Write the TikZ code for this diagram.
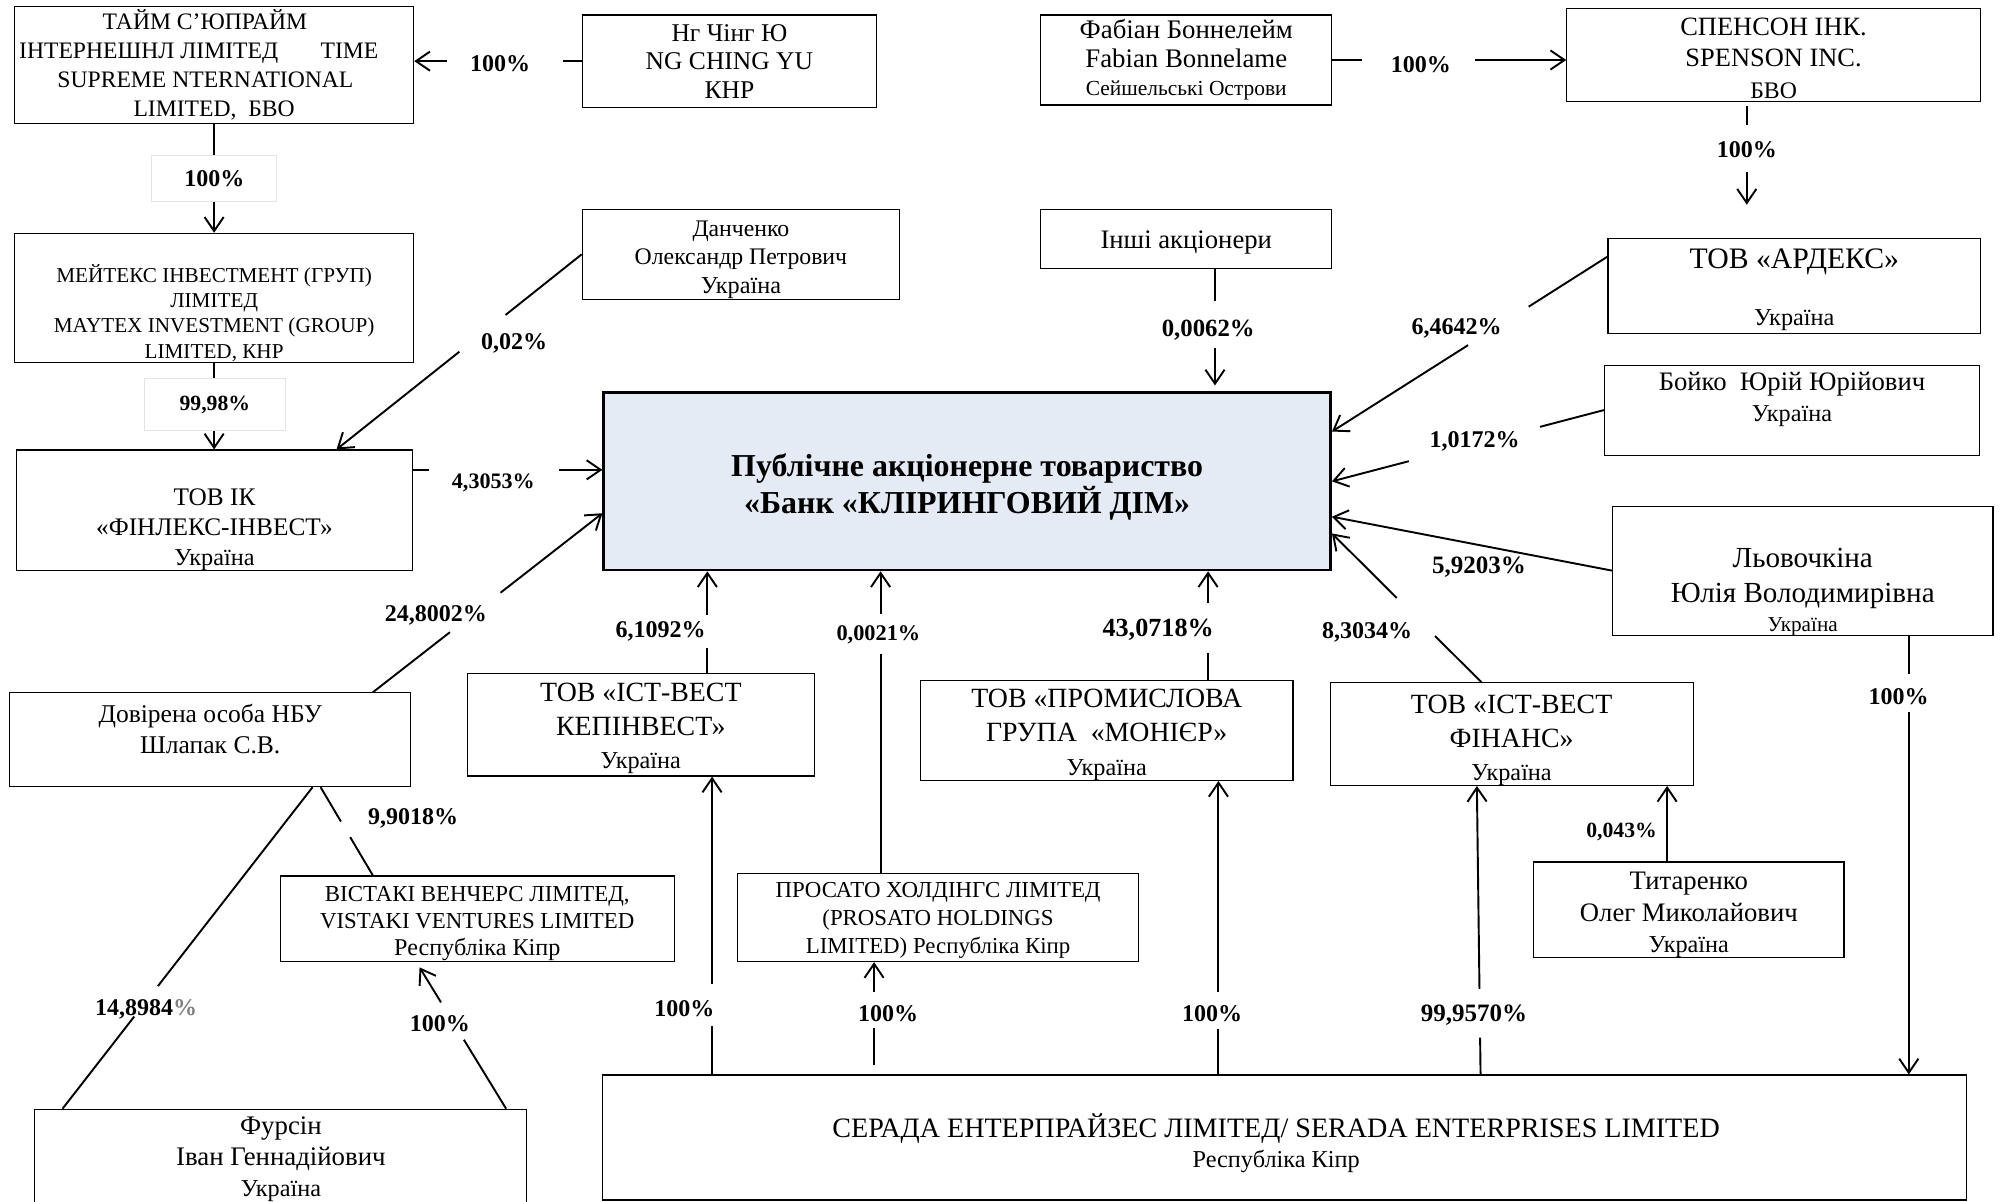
\documentclass[tikz,border=0pt]{standalone}
\usepackage{fontspec}
\setmainfont{Liberation Serif}
\usetikzlibrary{arrows.meta,calc}
\newcommand\fz[2]{\fontsize{#1}{#2}\selectfont}
\newcommand\dn[1]{\rule{0pt}{#1}}
\newcommand\tr[1]{\rule{#1}{0pt}}
\definecolor{bankfill}{RGB}{229,235,245}
\definecolor{lightedge}{RGB}{228,228,228}
\begin{document}
\begin{tikzpicture}[x=1pt,y=-1pt,
  bx/.style 2 args={draw, line width=0.9pt, inner sep=0pt, align=center, minimum width=#1, minimum height=#2},
  txt/.style={inner sep=0pt, align=center},
  conn/.style={line width=1.5pt},
  arr/.style={line width=1.5pt, -{Straight Barb[length=11pt,width=15pt]}},
  gap/.style={sloped, fill=white, inner sep=0pt, minimum height=8pt, minimum width=#1},
  lbl/.style={font=\bfseries\fz{18.8}{20}, inner sep=0pt},
  lblbox/.style={lbl, draw=lightedge, line width=0.8pt, fill=white}]
\fill[white] (0,0) rectangle (1568,941.4);
\useasboundingbox (0,0) rectangle (1568,941.4);

% ---------- boxes ----------
\node[bx={312.6pt}{91.4pt}, font=\fz{18.5}{22.7}] (tsi) at (167.7,50.9)
  {ТАЙМ С’ЮПРАЙМ\tr{14.4pt}\\ІНТЕРНЕШНЛ ЛІМІТЕД\hspace{1.8em}TIME\tr{24pt}\\SUPREME NTERNATIONAL\tr{13.6pt}\\LIMITED,\ \ БВО};
\node[bx={230.5pt}{72.4pt}, font=\fz{20}{22.3}] (ng) at (571.3,47.9)
  {Нг Чінг Ю\\NG CHING YU\\КНР};
\node[bx={227.8pt}{70.5pt}, font=\fz{21}{22.2}] (fab) at (929.1,47)
  {Фабіан Боннелейм\\Fabian Bonnelame\\{\fz{16.8}{20}Сейшельські Острови}};
\node[bx={324pt}{73.1pt}, font=\fz{20.7}{24.4}] (spen) at (1389.1,43.1)
  {\dn{18.7pt}СПЕНСОН ІНК.\\SPENSON INC.\\{\fz{18.6}{20}БВО}};
\node[bx={312.6pt}{101.1pt}] (may) at (167.7,233.3) {};
\node[txt, font=\fz{16.6}{19.8}] (mayt) at (167.7,245)
  {МЕЙТЕКС ІНВЕСТМЕНТ (ГРУП)\\ЛІМІТЕД\\MAYTEX INVESTMENT (GROUP)\\LIMITED, КНР};
\node[bx={248.5pt}{70.5pt}, font=\fz{18.6}{22.2}] (dan) at (580.3,199.2)
  {\dn{20.3pt}Данченко\\Олександр Петрович\\{\fz{19}{20}Україна}};
\node[bx={227.8pt}{46.2pt}, font=\fz{20.9}{22}] (inshi) at (929.1,187) {\dn{19.8pt}Інші акціонери};
\node[bx={291.7pt}{74.3pt}] (ard) at (1405.3,223.9) {};
\node[txt, font=\fz{23.3}{24}] (ardt) at (1405.3,205) {ТОВ «АРДЕКС»};
\node[txt, font=\fz{19}{20}] (ardu) at (1405.3,251) {Україна};
\node[bx={293.8pt}{70.5pt}] (boi) at (1403.5,321.2) {};
\node[txt, font=\fz{20.9}{24}] (boit) at (1403.5,313) {Бойко\ \ Юрій Юрійович\\{\fz{19}{20}Україна}};
\node[bx={569.4pt}{138.9pt}, line width=2pt, fill=bankfill, font=\bfseries\fz{25}{28.5}] (bank) at (757.5,377)
  {\dn{26.5pt}Публічне акціонерне товариство\\«Банк «КЛІРИНГОВИЙ ДІМ»};
\node[bx={310pt}{94.5pt}] (fin) at (168,399.7) {};
\node[txt, font=\fz{19.8}{23.5}] (fint) at (168,415) {ТОВ ІК\\«ФІНЛЕКС-ІНВЕСТ»\\{\fz{19}{20}Україна}};
\node[bx={298pt}{101pt}] (lyo) at (1411.9,446.9) {};
\node[txt, font=\fz{22.8}{27}] (lyot) at (1411.9,464) {Льовочкіна\\Юлія Володимирівна\\[-4pt]{\fz{16.6}{18}Україна}};
\node[bx={314pt}{73.4pt}] (dov) at (164.7,579.4) {};
\node[txt, font=\fz{20}{24}] (dovt) at (164.7,571) {Довірена особа НБУ\\Шлапак С.В.};
\node[bx={271.7pt}{80.4pt}, font=\fz{21.8}{26.5}] (kap) at (501.9,567.6)
  {\dn{20.4pt}ТОВ «ІСТ-ВЕСТ\\КЕПІНВЕСТ»\\{\fz{19}{20}Україна}};
\node[bx={291.7pt}{77.9pt}, font=\fz{21.8}{26.5}] (mon) at (866.8,572)
  {\dn{21.4pt}ТОВ «ПРОМИСЛОВА\\ГРУПА\ \ «МОНІЄР»\\{\fz{19}{20}Україна}};
\node[bx={284.3pt}{75.2pt}, font=\fz{21.8}{26}] (ifin) at (1183.9,574.9)
  {\dn{24.4pt}ТОВ «ІСТ-ВЕСТ\\ФІНАНС»\\{\fz{19}{20}Україна}};
\node[bx={308.4pt}{66.9pt}, font=\fz{17.9}{21}] (vis) at (373.8,719.5)
  {\dn{19.8pt}ВІСТАКІ ВЕНЧЕРС ЛІМІТЕД,\\VISTAKI VENTURES LIMITED\\{\fz{18.9}{20}Республіка Кіпр}};
\node[bx={313.7pt}{69pt}, font=\fz{17.9}{22}] (pros) at (734.7,718.6)
  {\dn{16.8pt}ПРОСАТО ХОЛДІНГС ЛІМІТЕД\\(PROSATO HOLDINGS\\LIMITED) Республіка Кіпр};
\node[bx={243pt}{73.7pt}, font=\fz{20.9}{24.5}] (tit) at (1322.7,712.5)
  {\dn{21.8pt}Титаренко\\Олег Миколайович\\{\fz{19}{20}Україна}};
\node[bx={1068.3pt}{97.9pt}] (ser) at (1006.3,890.9) {};
\node[txt, font=\fz{22}{23.5}] (sert) at (999.5,895)
  {СЕРАДА ЕНТЕРПРАЙЗЕС ЛІМІТЕД/ SERADA ENTERPRISES LIMITED\\{\fz{19}{20}Республіка Кіпр}};
\node[bx={385.3pt}{91.2pt}] (fur) at (220,914.4) {};
\node[txt, font=\fz{21}{24.5}] (furt) at (220,908) {Фурсін\\Іван Геннадійович\\{\fz{19}{20}Україна}};

% ---------- connectors ----------
\draw[arr] (ng.west) -- node[gap=91pt,pos=.459]{} (ng.west -| tsi.east);
\draw[arr] (tsi.south) -- (tsi.south |- may.north);
\draw[arr] (may.south) -- (may.south |- fin.north);
\draw[arr] (dan.west) -- node[gap=46pt,pos=.405]{} ([xshift=95.6pt]fin.north);
\draw[arr] ([yshift=31.7pt]fin.east) -- node[gap=102pt,pos=.428]{} ([yshift=31.7pt]fin.east -| bank.west);
\draw[arr] ([xshift=127.3pt]dov.north) -- node[gap=50pt,pos=.446]{} ([yshift=-25pt]bank.west);
\draw[arr] ([xshift=52.1pt]kap.north) -- node[gap=26pt,pos=.407]{} ([xshift=52.1pt]kap.north |- bank.south);
\draw[arr] ([xshift=-45pt]pros.north) -- node[gap=31pt,pos=.793]{} ([xshift=-45pt]pros.north |- bank.south);
\draw[arr] ([xshift=79.4pt]mon.north) -- node[gap=39pt,pos=.48]{} ([xshift=79.4pt]mon.north |- bank.south);
\draw[arr] ([xshift=-23.7pt]ifin.north) -- node[gap=42pt,pos=.438]{} ([yshift=-40.8pt]bank.east);
\draw[arr] (lyo.west) -- ([yshift=-27.7pt]bank.east);
\draw[arr] (boi.west) -- node[gap=106pt,pos=.476]{} (bank.east);
\draw[arr] ([yshift=22.9pt]ard.west) -- node[gap=56pt,pos=.396]{} ([yshift=39pt]bank.east);
\draw[arr, shorten >=4.7pt] ([xshift=22.5pt]inshi.south) -- node[gap=37pt,pos=.454]{} ([xshift=22.5pt]inshi.south |- bank.north);
\draw[arr] (fab.east) -- node[gap=88pt,pos=.369]{} (fab.east -| spen.west);
\draw[arr, shorten <=2.6pt, shorten >=26pt] ([xshift=-21pt]spen.south) -- node[gap=37pt,pos=.342]{} ([xshift=-21pt]spen.south |- ard.north);
\draw[arr] ([xshift=83.1pt]lyo.south) -- node[gap=30pt,pos=.131]{} ([xshift=83.1pt]lyo.south |- ser.north);
\draw[arr] ([xshift=-448.6pt]ser.north) -- node[gap=33pt,pos=.233]{} ([xshift=-448.6pt]ser.north |- kap.south);
\draw[arr, shorten <=7pt] ([xshift=-321.7pt]ser.north) -- node[gap=28pt,pos=.577]{} ([xshift=-321.7pt]ser.north |- pros.south);
\draw[arr] ([xshift=-52pt]ser.north) -- node[gap=29pt,pos=.217]{} ([xshift=-52pt]ser.north |- mon.south);
\draw[arr] ([xshift=153.3pt]ser.north) -- node[gap=38pt,pos=.212]{} ([xshift=-27.2pt]ifin.south);
\draw[arr] ([xshift=-17pt]tit.north) -- ([xshift=-17pt]tit.north |- ifin.south);
\draw[conn] ([xshift=86.4pt]dov.south) -- node[gap=14pt,pos=.478]{} ([xshift=-81.8pt]vis.north);
\draw[conn] ([xshift=80.1pt]dov.south) -- node[gap=30pt,pos=.666]{} ([xshift=-171pt]fur.north);
\draw[arr, shorten >=5pt] ([xshift=176.4pt]fur.north) -- node[gap=34pt,pos=.597]{} ([xshift=-47.8pt]vis.south);

% ---------- labels ----------
\node[lbl] (l1) at (391.7,49.6) {100\%};
\node[lblbox, minimum width=98pt, minimum height=36pt] (l2) at (167.9,140.1) {100\%};
\node[lblbox, minimum width=111pt, minimum height=40pt, font=\bfseries\fz{17}{20}] (l3) at (168.3,316.8) {99,98\%};
\node[lbl] (l4) at (402.6,268.9) {0,02\%};
\node[lbl, font=\bfseries\fz{17.3}{20}] (l5) at (386.4,378) {4,3053\%};
\node[lbl] (l6) at (341.3,482) {24,8002\%};
\node[lbl] (l7) at (517.5,494.8) {6,1092\%};
\node[lbl, font=\bfseries\fz{17.5}{20}] (l8) at (688,497.4) {0,0021\%};
\node[lbl, font=\bfseries\fz{20.5}{22}] (l9) at (907.1,493.5) {43,0718\%};
\node[lbl] (l10) at (1070.8,495.5) {8,3034\%};
\node[lbl, font=\bfseries\fz{19.6}{22}] (l11) at (1158.4,443.9) {5,9203\%};
\node[lbl] (l12) at (1155,346) {1,0172\%};
\node[lbl] (l13) at (1140.9,257.2) {6,4642\%};
\node[lbl, font=\bfseries\fz{19.4}{22}] (l14) at (946.3,258.4) {0,0062\%};
\node[lbl] (l15) at (1112.9,50.9) {100\%};
\node[lbl] (l16) at (1368.1,117.5) {100\%};
\node[lbl] (l17) at (1487,545.6) {100\%};
\node[lbl] (l18) at (536,789.7) {100\%};
\node[lbl] (l19) at (695.5,793.6) {100\%};
\node[lbl] (l20) at (949.3,793.6) {100\%};
\node[lbl, font=\bfseries\fz{19.6}{22}] (l21) at (1154.5,794.9) {99,9570\%};
\node[lbl, font=\bfseries\fz{17}{20}] (l22) at (1270,651.4) {0,043\%};
\node[lbl] (l23) at (323.5,641.2) {9,9018\%};
\node[lbl] (l24) at (114.4,790.4) {14,8984\textcolor{gray}{\%}};
\node[lbl] (l25) at (344.5,801.7) {100\%};
\end{tikzpicture}
\end{document}
